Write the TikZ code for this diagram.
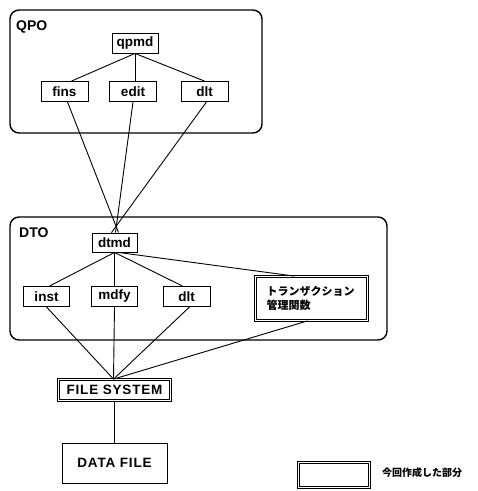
\documentclass[tikz,border=0pt]{standalone}
\usepackage{fontspec}
\setmainfont{Liberation Sans}
\newfontfamily\spaced{Liberation Sans}[LetterSpace=6]
\newfontfamily\jpfont{Noto Sans CJK JP}
\begin{document}
\begin{tikzpicture}[x=1pt,y=-1pt,
  container/.style={draw, line width=1.4pt, rounded corners=9pt, inner sep=0pt},
  modbox/.style={draw, line width=0.9pt, inner sep=0pt, minimum height=20pt, font=\bfseries\fontsize{13.5}{16}\selectfont},
  newbox/.style={draw, line width=0.8pt, double=white, double distance=1.8pt, inner sep=0pt},
  conn/.style={line width=0.9pt},
  tag/.style={anchor=west, inner sep=0pt, font=\bfseries\fontsize{14}{16}\selectfont}
]
\useasboundingbox (0,0) rectangle (478,491);

% QPO container
\node[container, minimum width=252pt, minimum height=123pt] (qpo) at (136,71.5) {};
\node[tag] (qpolabel) at (16,27) {QPO};
\node[modbox, minimum width=46pt] (qpmd) at (135,43) {qpmd};
\node[modbox, minimum width=47pt] (fins) at (64.5,91.5) {fins};
\node[modbox, minimum width=47pt] (edit) at (133,91.5) {edit};
\node[modbox, minimum width=47pt] (dlta) at (204.5,91.5) {dlt};

% DTO container
\node[container, minimum width=377pt, minimum height=123pt] (dto) at (198.5,278.5) {};
\node[tag] (dtolabel) at (19,232.5) {DTO};
\node[modbox, minimum width=45pt, minimum height=19pt] (dtmd) at (114.5,242.5) {dtmd};
\node[modbox, minimum width=46pt] (inst) at (46.5,296.5) {inst};
\node[modbox, minimum width=46pt] (mdfy) at (114.5,296.5) {mdfy};
\node[modbox, minimum width=47pt] (dltb) at (186.5,296.5) {dlt};
\node[newbox, minimum width=110pt, minimum height=44pt, inner xsep=11pt, align=left,
      text width=90pt,
      font=\jpfont\bfseries\fontsize{11}{14.5}\selectfont] (trans) at (311.5,298.5)
      {トランザクション\\管理関数};

% lower boxes
\node[newbox, minimum width=112pt, minimum height=21pt,
      font=\spaced\bfseries\fontsize{13.5}{16}\selectfont] (fs) at (114.5,390) {FILE SYSTEM};
\node[draw, line width=0.9pt, minimum width=105pt, minimum height=40pt, inner sep=0pt,
      font=\spaced\bfseries\fontsize{13.5}{16}\selectfont] (df) at (114.5,463) {DATA FILE};

% legend
\node[newbox, minimum width=71pt, minimum height=25pt] (legend) at (334,475) {};
\node[anchor=west, inner sep=0pt, font=\jpfont\bfseries\fontsize{10}{12}\selectfont]
      (legendtext) at (382,473) {今回作成した部分};

% connectors QPO
\draw[conn] (qpmd.south) -- ([xshift=7pt]fins.north);
\draw[conn] (qpmd.south) -- ([xshift=2pt]edit.north);
\draw[conn] (qpmd.south) -- (dlta.north);
\draw[conn] ([xshift=3pt]fins.south) -- ([xshift=4pt]dtmd.north);
\draw[conn] (edit.south) -- ([xshift=1pt]dtmd.north);
\draw[conn] ([xshift=2pt]dlta.south) -- ([xshift=-3pt]dtmd.north);

% connectors DTO
\draw[conn] (dtmd.south) -- ([xshift=3pt]inst.north);
\draw[conn] (dtmd.south) -- (mdfy.north);
\draw[conn] (dtmd.south) -- ([xshift=-4pt]dltb.north);
\draw[conn] ([xshift=4pt]dtmd.south) -- ([xshift=-17pt]trans.north);
\draw[conn] (inst.south) -- ([xshift=-1pt]fs.north);
\draw[conn] (mdfy.south) -- ([xshift=-1pt]fs.north);
\draw[conn] ([xshift=3pt]dltb.south) -- ([xshift=-1pt]fs.north);
\draw[conn] ([xshift=-4pt]trans.south) -- ([xshift=-1pt]fs.north);
\draw[conn] (fs.south) -- (df.north);
\end{tikzpicture}
\end{document}
